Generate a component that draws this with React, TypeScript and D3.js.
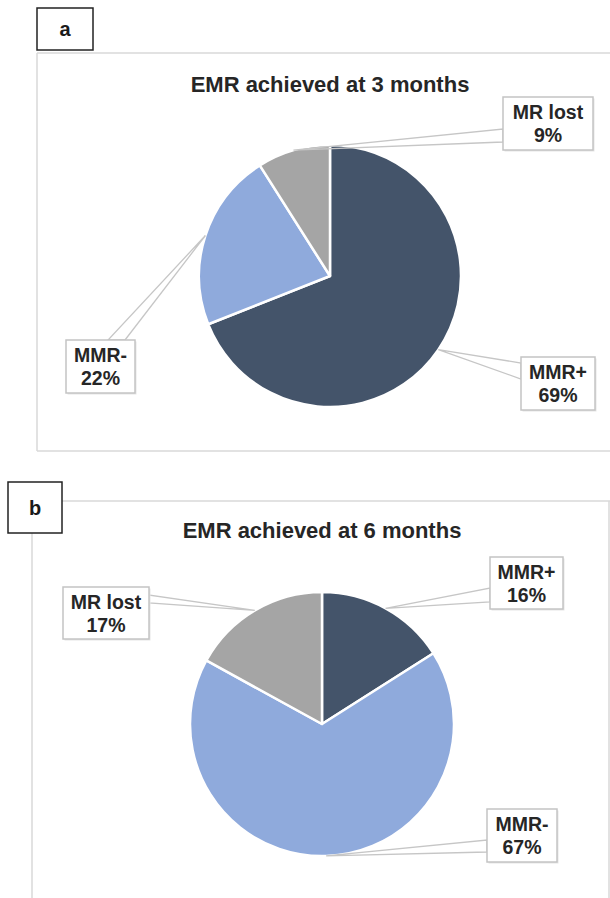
import * as d3 from "d3";
import React from "react";

// chart values
const categories = ["MMR+", "MMR-", "MR lost"];
const valuesA = [69, 22, 9];
const valuesB = [16, 67, 17];
const titles = ["EMR achieved at 3 months", "EMR achieved at 6 months"];
const panelLetters = ["a", "b"];
const colors = ["#44546a", "#8faadc", "#a5a5a5"];

const W = 610;
const H = 898;
const FONT = "'Liberation Sans', Arial, sans-serif";

type Box = { x: number; y: number; w: number; h: number; side: string; s0: number; s1: number };

// label box layout for each slice, in categories order
const boxesA: Box[] = [
  { x: 521, y: 357, w: 74, h: 53, side: "left", s0: 363, s1: 379 },
  { x: 66, y: 340, w: 69, h: 53, side: "top", s0: 108, s1: 125 },
  { x: 503, y: 97, w: 90, h: 53, side: "left", s0: 129, s1: 142 },
];
const boxesB: Box[] = [
  { x: 490, y: 557, w: 73, h: 52, side: "left", s0: 588, s1: 602 },
  { x: 487, y: 809, w: 70, h: 53, side: "left", s0: 840, s1: 852 },
  { x: 63, y: 587, w: 86, h: 52, side: "right", s0: 595, s1: 603 },
];

const panels = [
  {
    letter: panelLetters[0], title: titles[0], values: valuesA, boxes: boxesA,
    cx: 330, cy: 276, r: 131, titleY: 92,
    letterBox: { x: 37, y: 8, w: 56, h: 42 },
    frame: { x: 37, top: 53, bottom: 451, right: false },
  },
  {
    letter: panelLetters[1], title: titles[1], values: valuesB, boxes: boxesB,
    cx: 322, cy: 724, r: 132, titleY: 538,
    letterBox: { x: 8, y: 482, w: 54, h: 51 },
    frame: { x: 32, top: 501, bottom: H, right: true },
  },
];

function edgePoints(b: Box): [number, number][] {
  if (b.side === "left") return [[b.x, b.s0], [b.x, b.s1]];
  if (b.side === "right") return [[b.x + b.w, b.s0], [b.x + b.w, b.s1]];
  if (b.side === "top") return [[b.s0, b.y], [b.s1, b.y]];
  return [[b.s0, b.y + b.h], [b.s1, b.y + b.h]];
}

function Panel({ p }: { p: (typeof panels)[number] }) {
  const pie = d3.pie<number>().sort(null).value((d) => d);
  const arcs = pie(p.values);
  const arc = d3.arc<d3.PieArcDatum<number>>().innerRadius(0).outerRadius(p.r);
  const edge = d3.arc<d3.PieArcDatum<number>>().innerRadius(p.r).outerRadius(p.r);
  const total = d3.sum(p.values);
  const f = p.frame;
  const lb = p.letterBox;

  return (
    <g>
      {/* panel frame */}
      <line x1={f.x} x2={W} y1={f.top} y2={f.top} stroke="#d9d9d9" strokeWidth={1.5} />
      <line x1={f.x} x2={f.x} y1={f.top} y2={f.bottom} stroke="#d9d9d9" strokeWidth={1.5} />
      {f.bottom < H && (
        <line x1={f.x} x2={W} y1={f.bottom} y2={f.bottom} stroke="#d9d9d9" strokeWidth={1.5} />
      )}
      {f.right && <line x1={W - 1} x2={W - 1} y1={f.top} y2={f.bottom} stroke="#d9d9d9" strokeWidth={1.5} />}

      <rect x={lb.x} y={lb.y} width={lb.w} height={lb.h} fill="#fff" stroke="#222" strokeWidth={1.5} />
      <text x={lb.x + lb.w / 2} y={lb.y + lb.h / 2 + 7} textAnchor="middle" fontFamily={FONT}
        fontWeight="bold" fontSize={20} fill="#1a1a1a">{p.letter}</text>

      <text x={p.cx} y={p.titleY} textAnchor="middle" fontFamily={FONT} fontWeight="bold"
        fontSize={22} fill="#262626">{p.title}</text>

      <g transform={`translate(${p.cx},${p.cy})`}>
        {arcs.map((d, i) => (
          <path key={i} d={arc(d) || ""} fill={colors[i]} stroke="#fff" strokeWidth={2.5} strokeLinejoin="round" />
        ))}
      </g>

      {/* leader lines from slice edge to label box */}
      {arcs.map((d, i) => {
        const [ax, ay] = edge.centroid(d);
        const pts = [[p.cx + ax, p.cy + ay], ...edgePoints(p.boxes[i])];
        return (
          <polygon key={i} points={pts.map((q) => q.join(",")).join(" ")} fill="#fff"
            fillOpacity={0} stroke="#c6c6c6" strokeWidth={1.3} strokeLinejoin="miter" />
        );
      })}

      {arcs.map((d, i) => {
        const b = p.boxes[i];
        const pct = Math.round((d.data / total) * 100);
        return (
          <g key={i}>
            <rect x={b.x + 1.5} y={b.y + 1.5} width={b.w} height={b.h} fill="#e6e6e6" />
            <rect x={b.x} y={b.y} width={b.w} height={b.h} fill="#fff" stroke="#c4c4c4" strokeWidth={1.5} />
            <text x={b.x + b.w / 2} textAnchor="middle" fontFamily={FONT} fontWeight="bold"
              fontSize={19.5} fill="#262626">
              <tspan x={b.x + b.w / 2} y={b.y + 22}>{categories[i]}</tspan>
              <tspan x={b.x + b.w / 2} y={b.y + 44.5}>{pct}%</tspan>
            </text>
          </g>
        );
      })}
    </g>
  );
}

export default function App() {
  return (
    <svg width={W} height={H} style={{ position: "absolute", left: 0, top: 0, background: "#fff" }}>
      <rect width={W} height={H} fill="#fff" />
      {panels.map((p) => (
        <Panel key={p.letter} p={p} />
      ))}
    </svg>
  );
}
